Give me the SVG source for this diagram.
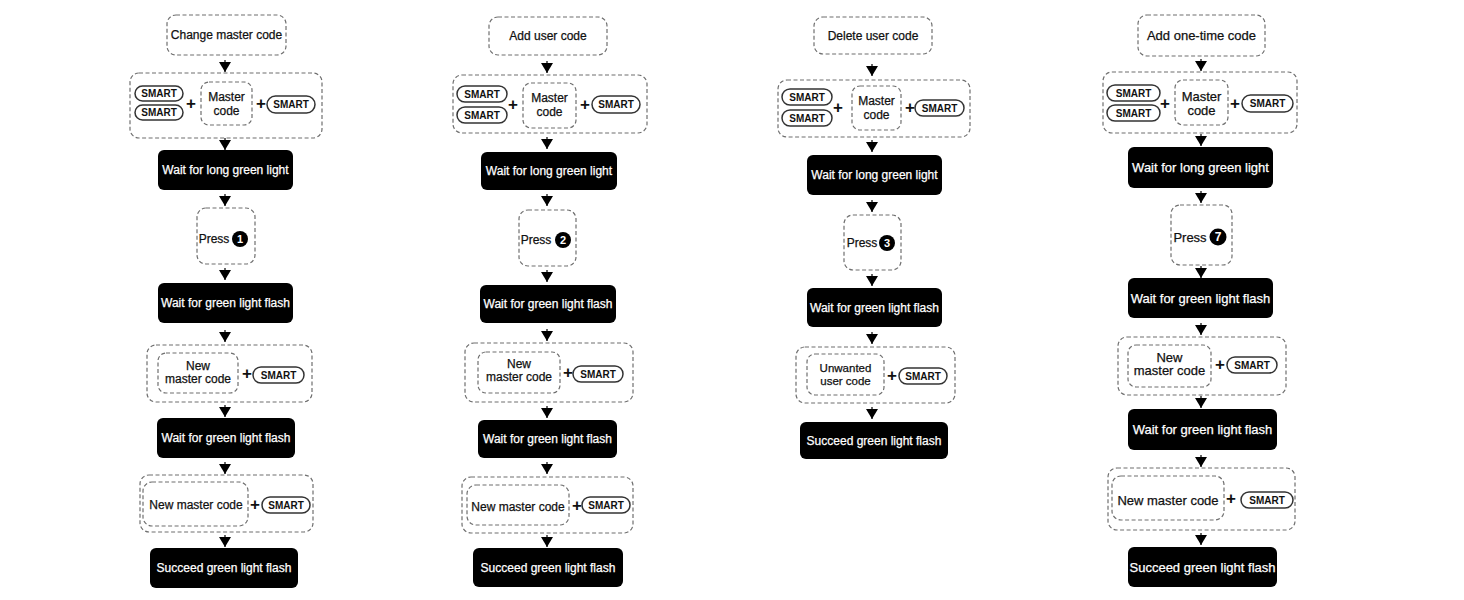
<svg xmlns="http://www.w3.org/2000/svg" width="1464" height="600" viewBox="0 0 1464 600">
<style>
.d{fill:#fff;stroke:#6f6f6f;stroke-width:1.2;stroke-dasharray:4 2.5}
.p{fill:#fff;stroke:#333;stroke-width:1.5}
.b{fill:#000}
.t{font-family:"Liberation Sans",Arial,sans-serif;font-size:12px;fill:#111;stroke:#111;stroke-width:0.25;text-anchor:middle;dominant-baseline:central}
.w{fill:#fff;stroke:#fff}
.s{font-size:10px;font-weight:bold;stroke-width:0}
.pl{font-size:17px;font-weight:bold;stroke-width:0}
.c4{font-size:13px}
.u{font-size:11.5px}
.cn{fill:#fff;stroke-width:0;font-size:11px;font-weight:bold}
.cn4{fill:#fff;stroke-width:0;font-size:12px;font-weight:bold}
.e{stroke:#000;stroke-width:1.2;fill:none}
</style>
<defs>
<marker id="ah" viewBox="0 0 10 12" refX="10" refY="6" markerWidth="10" markerHeight="12" markerUnits="userSpaceOnUse" orient="auto">
<path d="M0,0 L10,6 L0,12 Z" fill="#000"/>
</marker>
</defs>
<rect width="1464" height="600" fill="#fff"/>
<g id="connectors" class="e" marker-end="url(#ah)">
<line x1="225" y1="60" x2="225" y2="72"/>
<line x1="225" y1="138" x2="225" y2="150"/>
<line x1="225" y1="194" x2="225" y2="206"/>
<line x1="225" y1="268" x2="225" y2="280"/>
<line x1="225" y1="330" x2="225" y2="342"/>
<line x1="225" y1="405" x2="225" y2="417"/>
<line x1="225" y1="462" x2="225" y2="474"/>
<line x1="225" y1="535" x2="225" y2="547"/>
<line x1="547" y1="61" x2="547" y2="73"/>
<line x1="547" y1="137" x2="547" y2="149"/>
<line x1="547" y1="194" x2="547" y2="206"/>
<line x1="547" y1="270" x2="547" y2="282"/>
<line x1="547" y1="329" x2="547" y2="341"/>
<line x1="547" y1="406" x2="547" y2="418"/>
<line x1="547" y1="462" x2="547" y2="474"/>
<line x1="547" y1="535" x2="547" y2="547"/>
<line x1="872" y1="64" x2="872" y2="76"/>
<line x1="872" y1="140" x2="872" y2="152"/>
<line x1="872" y1="200" x2="872" y2="212"/>
<line x1="872" y1="274" x2="872" y2="286"/>
<line x1="872" y1="332" x2="872" y2="344"/>
<line x1="872" y1="407" x2="872" y2="419"/>
<line x1="1201" y1="59" x2="1201" y2="71"/>
<line x1="1201" y1="134" x2="1201" y2="146"/>
<line x1="1201" y1="191" x2="1201" y2="203"/>
<line x1="1201" y1="266" x2="1201" y2="278"/>
<line x1="1201" y1="323" x2="1201" y2="335"/>
<line x1="1201" y1="396" x2="1201" y2="408"/>
<line x1="1201" y1="455" x2="1201" y2="467"/>
<line x1="1201" y1="533" x2="1201" y2="545"/>
</g>

<!-- Column 1 -->
<g id="c1-start"><rect class="d" x="167" y="15" width="119" height="40" rx="9"/><text class="t" x="226.5" y="35">Change master code</text></g>
<g id="c1-combo">
<rect class="d" x="130" y="73" width="192" height="65" rx="9"/>
<rect class="p" x="135" y="86" width="48" height="15" rx="7.5"/><text class="t s" x="159" y="93.5">SMART</text>
<rect class="p" x="135" y="105" width="48" height="15" rx="7.5"/><text class="t s" x="159" y="112.5">SMART</text>
<text class="t pl" x="191" y="103">+</text>
<rect class="d" x="201" y="82" width="51" height="43" rx="8"/><text class="t" x="226.5" y="97">Master</text><text class="t" x="226.5" y="111">code</text>
<text class="t pl" x="261" y="103">+</text>
<rect class="p" x="267" y="96" width="48" height="17" rx="8.5"/><text class="t s" x="291" y="104.5">SMART</text>
</g>
<g id="c1-wait1"><rect class="b" x="158" y="150" width="135" height="40" rx="6"/><text class="t w" x="225.5" y="170">Wait for long green light</text></g>
<g id="c1-press"><rect class="d" x="197" y="208" width="58" height="56" rx="9"/><text class="t" x="214" y="239">Press</text><circle cx="240" cy="239" r="8"/><text class="t cn" x="240" y="239">1</text></g>
<g id="c1-wait2"><rect class="b" x="158" y="283" width="135" height="40" rx="6"/><text class="t w" x="225.5" y="303">Wait for green light flash</text></g>
<g id="c1-new1">
<rect class="d" x="147" y="345" width="165" height="57" rx="9"/>
<rect class="d" x="158" y="353" width="80" height="40" rx="8"/><text class="t" x="198" y="366">New</text><text class="t" x="198" y="379">master code</text>
<text class="t pl" x="247" y="373">+</text>
<rect class="p" x="253" y="367" width="51" height="16" rx="8"/><text class="t s" x="278.5" y="375">SMART</text>
</g>
<g id="c1-wait3"><rect class="b" x="157" y="418" width="138" height="40" rx="6"/><text class="t w" x="226" y="438">Wait for green light flash</text></g>
<g id="c1-new2">
<rect class="d" x="140" y="475" width="173" height="57" rx="9"/>
<rect class="d" x="143" y="482" width="105" height="44" rx="9"/><text class="t" x="196" y="505">New master code</text>
<text class="t pl" x="255" y="504">+</text>
<rect class="p" x="262" y="497" width="48" height="16" rx="8"/><text class="t s" x="286" y="505">SMART</text>
</g>
<g id="c1-done"><rect class="b" x="150" y="548" width="148" height="40" rx="6"/><text class="t w" x="224" y="568">Succeed green light flash</text></g>

<!-- Column 2 -->
<g id="c2-start"><rect class="d" x="489" y="17" width="118" height="38" rx="9"/><text class="t" x="548" y="36">Add user code</text></g>
<g id="c2-combo">
<rect class="d" x="453" y="75" width="194" height="58" rx="9"/>
<rect class="p" x="457" y="86" width="50" height="16" rx="8"/><text class="t s" x="482" y="94">SMART</text>
<rect class="p" x="457" y="107" width="50" height="16" rx="8"/><text class="t s" x="482" y="115">SMART</text>
<text class="t pl" x="513" y="104">+</text>
<rect class="d" x="523" y="83" width="53" height="45" rx="8"/><text class="t" x="549.5" y="98">Master</text><text class="t" x="549.5" y="112">code</text>
<text class="t pl" x="585" y="104">+</text>
<rect class="p" x="592" y="96" width="48" height="17" rx="8.5"/><text class="t s" x="616" y="104.5">SMART</text>
</g>
<g id="c2-wait1"><rect class="b" x="481" y="152" width="136" height="38" rx="6"/><text class="t w" x="549" y="171">Wait for long green light</text></g>
<g id="c2-press"><rect class="d" x="519" y="210" width="57" height="56" rx="9"/><text class="t" x="536" y="240">Press</text><circle cx="563" cy="240" r="8"/><text class="t cn" x="563" y="240">2</text></g>
<g id="c2-wait2"><rect class="b" x="480" y="285" width="136" height="38" rx="6"/><text class="t w" x="548" y="304">Wait for green light flash</text></g>
<g id="c2-new1">
<rect class="d" x="465" y="343" width="168" height="59" rx="9"/>
<rect class="d" x="478" y="352" width="82" height="41" rx="8"/><text class="t" x="519" y="364">New</text><text class="t" x="519" y="377">master code</text>
<text class="t pl" x="568" y="372">+</text>
<rect class="p" x="573" y="366" width="50" height="16" rx="8"/><text class="t s" x="598" y="374">SMART</text>
</g>
<g id="c2-wait3"><rect class="b" x="478" y="420" width="139" height="38" rx="6"/><text class="t w" x="547.5" y="439">Wait for green light flash</text></g>
<g id="c2-new2">
<rect class="d" x="462" y="477" width="171" height="56" rx="9"/>
<rect class="d" x="467" y="485" width="102" height="40" rx="9"/><text class="t" x="518" y="507">New master code</text>
<text class="t pl" x="577" y="505">+</text>
<rect class="p" x="582" y="497" width="48" height="16" rx="8"/><text class="t s" x="606" y="505">SMART</text>
</g>
<g id="c2-done"><rect class="b" x="473" y="548" width="150" height="39" rx="6"/><text class="t w" x="548" y="567.5">Succeed green light flash</text></g>

<!-- Column 3 -->
<g id="c3-start"><rect class="d" x="814" y="17" width="118" height="37" rx="9"/><text class="t" x="873" y="36">Delete user code</text></g>
<g id="c3-combo">
<rect class="d" x="778" y="80" width="192" height="57" rx="9"/>
<rect class="p" x="782" y="89" width="50" height="16" rx="8"/><text class="t s" x="807" y="97">SMART</text>
<rect class="p" x="782" y="110" width="50" height="16" rx="8"/><text class="t s" x="807" y="118">SMART</text>
<text class="t pl" x="838" y="107">+</text>
<rect class="d" x="852" y="86" width="49" height="44" rx="8"/><text class="t" x="876.5" y="101">Master</text><text class="t" x="876.5" y="115">code</text>
<text class="t pl" x="910" y="107">+</text>
<rect class="p" x="915" y="100" width="49" height="16" rx="8"/><text class="t s" x="939.5" y="108">SMART</text>
</g>
<g id="c3-wait1"><rect class="b" x="807" y="155" width="135" height="40" rx="6"/><text class="t w" x="874.5" y="175">Wait for long green light</text></g>
<g id="c3-press"><rect class="d" x="844" y="215" width="57" height="55" rx="9"/><text class="t" x="862" y="243">Press</text><circle cx="887" cy="243" r="8"/><text class="t cn" x="887" y="243">3</text></g>
<g id="c3-wait2"><rect class="b" x="807" y="288" width="135" height="39" rx="6"/><text class="t w" x="874.5" y="307.5">Wait for green light flash</text></g>
<g id="c3-unwanted">
<rect class="d" x="796" y="347" width="159" height="56" rx="9"/>
<rect class="d" x="807" y="354" width="77" height="41" rx="8"/><text class="t u" x="845.5" y="368">Unwanted</text><text class="t u" x="845.5" y="381">user code</text>
<text class="t pl" x="892" y="375">+</text>
<rect class="p" x="899" y="368" width="48" height="16" rx="8"/><text class="t s" x="923" y="376">SMART</text>
</g>
<g id="c3-done"><rect class="b" x="800" y="422" width="148" height="37" rx="6"/><text class="t w" x="874" y="440.5">Succeed green light flash</text></g>

<!-- Column 4 -->
<g id="c4-start"><rect class="d" x="1138" y="15" width="127" height="41" rx="9"/><text class="t c4" x="1201.5" y="35.5">Add one-time code</text></g>
<g id="c4-combo">
<rect class="d" x="1103" y="72" width="194" height="61" rx="9"/>
<rect class="p" x="1107" y="85" width="53" height="16" rx="8"/><text class="t s" x="1133.5" y="93">SMART</text>
<rect class="p" x="1107" y="105" width="53" height="16" rx="8"/><text class="t s" x="1133.5" y="113">SMART</text>
<text class="t pl" x="1165" y="103">+</text>
<rect class="d" x="1175" y="80" width="53" height="45" rx="8"/><text class="t c4" x="1201.5" y="96">Master</text><text class="t c4" x="1201.5" y="110">code</text>
<text class="t pl" x="1235" y="103">+</text>
<rect class="p" x="1242" y="95" width="51" height="17" rx="8.5"/><text class="t s" x="1267.5" y="103.5">SMART</text>
</g>
<g id="c4-wait1"><rect class="b" x="1128" y="147" width="145" height="41" rx="6"/><text class="t w c4" x="1200.5" y="167.5">Wait for long green light</text></g>
<g id="c4-press"><rect class="d" x="1171" y="205" width="61" height="60" rx="9"/><text class="t c4" x="1190" y="237">Press</text><circle cx="1218" cy="237" r="8.5"/><text class="t cn4" x="1218" y="237">7</text></g>
<g id="c4-wait2"><rect class="b" x="1128" y="278" width="145" height="40" rx="6"/><text class="t w c4" x="1200.5" y="298">Wait for green light flash</text></g>
<g id="c4-new1">
<rect class="d" x="1118" y="337" width="168" height="58" rx="9"/>
<rect class="d" x="1128" y="345" width="83" height="42" rx="8"/><text class="t c4" x="1169.5" y="357">New</text><text class="t c4" x="1169.5" y="370">master code</text>
<text class="t pl" x="1220" y="364">+</text>
<rect class="p" x="1227" y="357" width="50" height="16" rx="8"/><text class="t s" x="1252" y="365">SMART</text>
</g>
<g id="c4-wait3"><rect class="b" x="1128" y="409" width="149" height="41" rx="6"/><text class="t w c4" x="1202.5" y="429.5">Wait for green light flash</text></g>
<g id="c4-new2">
<rect class="d" x="1108" y="468" width="187" height="62" rx="9"/>
<rect class="d" x="1112" y="476" width="112" height="44" rx="9"/><text class="t c4" x="1168" y="500">New master code</text>
<text class="t pl" x="1231" y="498">+</text>
<rect class="p" x="1241" y="492" width="52" height="16" rx="8"/><text class="t s" x="1267" y="500">SMART</text>
</g>
<g id="c4-done"><rect class="b" x="1128" y="547" width="149" height="40" rx="6"/><text class="t w c4" x="1202.5" y="567">Succeed green light flash</text></g>
</svg>
